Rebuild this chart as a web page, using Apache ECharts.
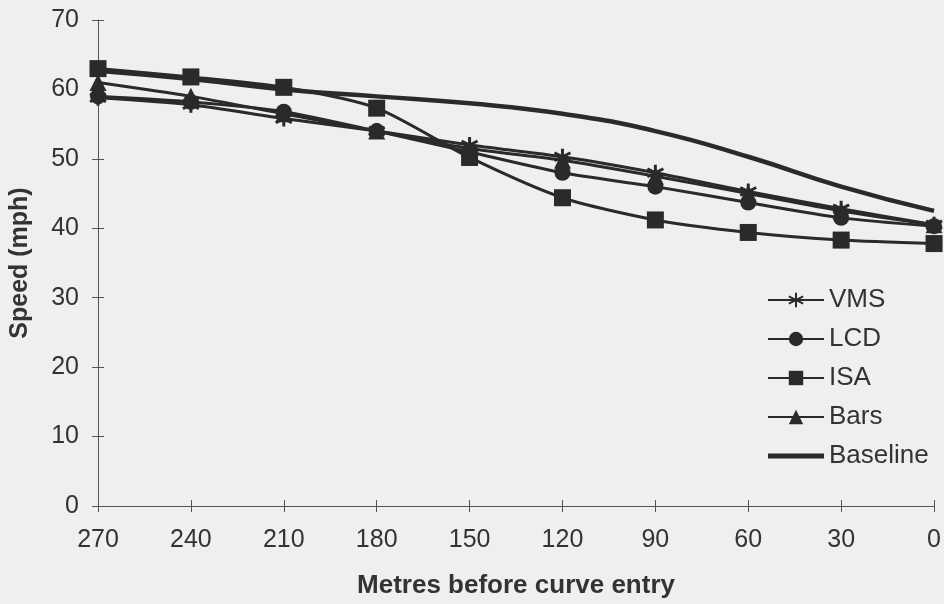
<!DOCTYPE html>
<html><head><meta charset="utf-8">
<script src="https://cdn.jsdelivr.net/npm/echarts@6/dist/echarts.min.js"></script>
<style>html,body{margin:0;padding:0;background:#efefef}#c{width:944px;height:604px}</style>
</head><body><div id="c"></div>
<script>
const categories = ['270','240','210','180','150','120','90','60','30','0'];
const vms = [58.8, 57.8, 55.8, 54.0, 52.0, 50.3, 48.0, 45.3, 42.8, 40.5];
const lcd = [59.0, 58.2, 56.8, 54.0, 51.0, 48.0, 46.0, 43.7, 41.5, 40.3];
const isa = [63.0, 61.8, 60.3, 57.3, 50.2, 44.4, 41.2, 39.4, 38.3, 37.8];
const bars = [61.0, 59.0, 56.5, 54.0, 51.5, 49.8, 47.5, 45.0, 42.5, 40.5];
const baseline = [62.7, 61.5, 60.0, 59.0, 58.0, 56.5, 54.0, 50.3, 46.0, 42.5];

const ink = '#2a2a2a';
const axisInk = '#555';
const textInk = '#333';
const font = '"Liberation Sans", Arial, sans-serif';
const star = 'path://M0,-10L0,10M-8.66,-5L8.66,5M-8.66,5L8.66,-5';

function mk(name, data, symbol, size, extra) {
  return Object.assign({
    name, type: 'line', data, symbol, symbolSize: size, smooth: 0.25,
    xAxisIndex: 0, yAxisIndex: 0,
    lineStyle: {color: ink, width: 3},
    itemStyle: {color: ink},
    emphasis: {disabled: true}
  }, extra || {});
}

const chart = echarts.init(document.getElementById('c'));
chart.setOption({
  backgroundColor: '#efefef',
  animation: false,
  textStyle: {fontFamily: font},
  grid: {left: 97, right: 9, top: 20, bottom: 98},
  legend: {
    orient: 'vertical', left: 762, top: 282, itemGap: 13, itemWidth: 56, itemHeight: 18,
    textStyle: {fontSize: 26, color: textInk, fontFamily: font},
    data: ['VMS','LCD','ISA','Bars',{name: 'Baseline', icon: 'path://M0,0H56V5H0Z'}]
  },
  xAxis: [{
    type: 'category', data: categories, boundaryGap: false, position: 'bottom',
    name: 'Metres before curve entry', nameLocation: 'middle', nameGap: 67,
    nameTextStyle: {fontSize: 26, fontWeight: 'bold', color: textInk, fontFamily: font},
    axisLine: {lineStyle: {color: axisInk, width: 1}},
    axisTick: {show: true, length: 6, inside: false, alignWithLabel: true, lineStyle: {color: axisInk}},
    axisLabel: {fontSize: 25, color: textInk, margin: 22, fontFamily: font},
    splitLine: {show: false}
  }, {
    type: 'category', data: categories, boundaryGap: false, position: 'bottom', offset: 0,
    axisLine: {show: false},
    axisTick: {show: true, length: 6, inside: true, alignWithLabel: true, lineStyle: {color: axisInk}},
    axisLabel: {show: false},
    splitLine: {show: false}
  }],
  yAxis: [{
    type: 'value', min: 0, max: 70, interval: 10, position: 'left',
    name: 'Speed (mph)', nameLocation: 'middle', nameGap: 65, nameRotate: 90,
    nameTextStyle: {fontSize: 25, fontWeight: 'bold', color: textInk, fontFamily: font},
    axisLine: {show: true, lineStyle: {color: axisInk, width: 1}},
    axisTick: {show: true, length: 6, lineStyle: {color: axisInk}},
    axisLabel: {fontSize: 25, color: textInk, margin: 19, fontFamily: font},
    splitLine: {show: false}
  }, {
    type: 'value', min: 0, max: 70, interval: 10, position: 'left', offset: 0,
    axisLine: {show: false},
    axisTick: {show: true, length: 6, inside: true, lineStyle: {color: axisInk}},
    axisLabel: {show: false},
    splitLine: {show: false}
  }],
  series: [
    mk('Baseline', baseline, 'none', 0, {smooth: 0.5, lineStyle: {color: ink, width: 4.5}, z: 1}),
    mk('ISA', isa, 'rect', 17, {z: 2}),
    mk('Bars', bars, 'triangle', 17, {z: 3}),
    mk('LCD', lcd, 'circle', 16, {z: 4}),
    mk('VMS', vms, star, 16, {z: 5, itemStyle: {color: ink, borderColor: ink, borderWidth: 3}})
  ]
});
</script></body></html>
